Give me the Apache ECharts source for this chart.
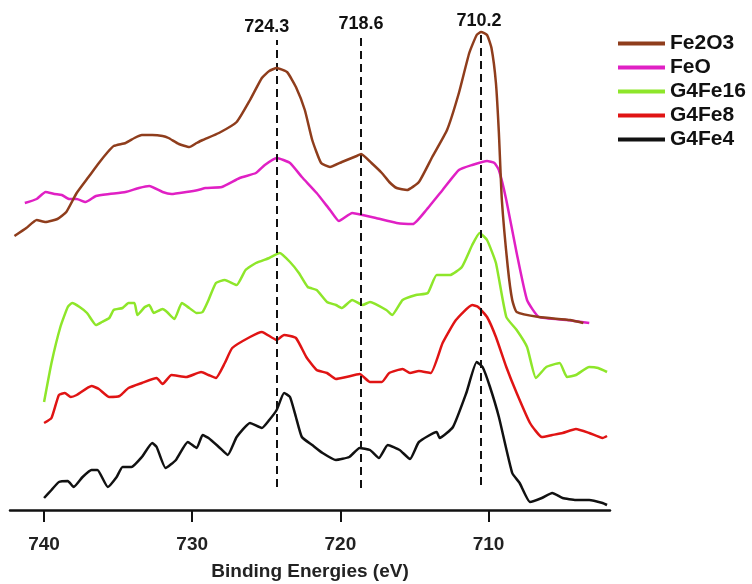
<!DOCTYPE html>
<html>
<head>
<meta charset="utf-8">
<script src="https://cdn.jsdelivr.net/npm/echarts@6/dist/echarts.min.js"></script>
<style>
  html, body { margin: 0; padding: 0; background: #fff; }
  #chart { width: 752px; height: 584px; }
</style>
</head>
<body>
<div id="chart"></div>
<script>
// Binding energy (eV), intensity (a.u., stacked offsets)
let fe2o3 = [
  [742.0, 274], [741.2, 282], [740.5, 290], [739.9, 288], [739.1, 291], [738.5, 298],
  [737.8, 317], [737.0, 333], [736.3, 347], [735.7, 358], [735.3, 364], [734.5, 367],
  [733.9, 372], [733.4, 375], [732.7, 375], [732.0, 374], [731.6, 372], [730.9, 366],
  [730.2, 363], [729.7, 367], [729.3, 370], [728.2, 377], [727.0, 388], [726.1, 410],
  [725.3, 432], [724.8, 439], [724.3, 442], [723.6, 438], [723.0, 423], [722.4, 400],
  [721.9, 370], [721.3, 347], [720.7, 343], [719.9, 348], [718.9, 354], [718.6, 356],
  [717.9, 347], [717.2, 337], [716.7, 328], [716.2, 322], [715.5, 320], [714.7, 328],
  [713.8, 353], [712.8, 380], [712.0, 417], [711.3, 457], [710.8, 475], [710.5, 478],
  [710.1, 475], [709.8, 462], [709.5, 427], [709.3, 377], [709.1, 310], [708.7, 243],
  [708.4, 210], [708.1, 198], [706.6, 193], [704.5, 190], [703.6, 187]
];
let feo = [
  [741.3, 307], [740.5, 311], [739.9, 318], [739.3, 316], [738.8, 315], [738.3, 311],
  [737.8, 311], [737.2, 308], [736.5, 314], [735.6, 316], [734.5, 318], [733.6, 322],
  [732.9, 324], [732.0, 318], [731.4, 316], [730.4, 318], [729.6, 320], [729.1, 322],
  [728.0, 323], [726.8, 332], [725.7, 337], [725.1, 345], [724.3, 352], [723.4, 347],
  [722.6, 333], [721.6, 317], [720.7, 300], [720.1, 289], [719.2, 297], [718.5, 295],
  [717.6, 292], [716.2, 287], [715.1, 286], [714.2, 300], [713.1, 320], [712.0, 340],
  [711.1, 345], [710.1, 349], [709.6, 347], [709.3, 340], [708.8, 310], [708.1, 257],
  [707.4, 210], [706.6, 193], [704.7, 190], [703.2, 187]
];
let g4fe16 = [
  [740.0, 108], [739.5, 147], [738.9, 183], [738.4, 203], [738.1, 207], [737.6, 203],
  [737.1, 197], [736.5, 185], [736.1, 188], [735.6, 192], [735.3, 200], [734.7, 202],
  [734.3, 207], [733.9, 207], [733.7, 195], [733.2, 203], [732.9, 205], [732.6, 197],
  [732.0, 201], [731.7, 198], [731.2, 191], [730.7, 207], [730.2, 202], [729.7, 197],
  [729.3, 198], [728.9, 210], [728.4, 227], [727.8, 230], [727.0, 225], [726.4, 240],
  [725.7, 247], [724.8, 252], [724.1, 257], [723.4, 248], [722.8, 237], [722.2, 223],
  [721.6, 220], [720.9, 208], [720.3, 205], [719.9, 202], [719.2, 210], [718.5, 205],
  [718.0, 208], [716.9, 200], [716.5, 195], [715.8, 210], [714.9, 215], [714.1, 217],
  [713.5, 235], [712.6, 235], [711.8, 243], [711.1, 265], [710.6, 277], [710.1, 270],
  [709.5, 247], [708.8, 193], [708.1, 180], [707.4, 163], [706.8, 132], [706.1, 143],
  [705.2, 147], [704.7, 133], [704.1, 135], [703.2, 143], [702.6, 142], [702.0, 138]
];
let g4fe8 = [
  [740.0, 87], [739.5, 92], [739.0, 115], [738.6, 117], [738.2, 113], [737.8, 115],
  [736.8, 124], [736.3, 121], [735.6, 113], [734.9, 114], [734.3, 122], [733.4, 127],
  [732.4, 132], [732.0, 126], [731.4, 135], [730.4, 133], [729.4, 138], [728.9, 135],
  [728.4, 132], [727.8, 147], [727.3, 162], [726.1, 173], [725.3, 178], [724.3, 170],
  [723.8, 175], [723.0, 172], [722.3, 153], [721.6, 140], [720.9, 137], [720.3, 131],
  [719.6, 133], [718.7, 136], [718.0, 128], [717.2, 128], [716.7, 137], [715.8, 141],
  [715.3, 137], [714.7, 139], [713.9, 137], [713.1, 167], [712.2, 190], [711.1, 205],
  [710.7, 203], [710.1, 193], [709.5, 173], [708.8, 143], [708.1, 117], [707.2, 87],
  [706.4, 73], [705.7, 75], [705.0, 77], [704.1, 81], [703.2, 77], [702.3, 72],
  [702.0, 74]
];
let g4fe4 = [
  [740.0, 12], [739.5, 20], [739.0, 28], [738.4, 29], [738.0, 23], [737.4, 33],
  [736.8, 40], [736.4, 40], [735.7, 23], [735.1, 33], [734.7, 43], [734.1, 43],
  [733.4, 53], [732.7, 67], [732.4, 63], [731.8, 42], [731.1, 50], [730.3, 68],
  [729.7, 62], [729.3, 75], [728.9, 72], [728.2, 63], [727.6, 55], [727.0, 73],
  [726.1, 87], [725.3, 82], [724.8, 90], [724.3, 100], [723.8, 117], [723.4, 113],
  [723.0, 93], [722.6, 73], [721.9, 65], [721.2, 57], [720.3, 50], [719.4, 53],
  [718.7, 62], [718.0, 60], [717.4, 52], [716.8, 65], [716.0, 60], [715.3, 51],
  [714.7, 68], [713.5, 78], [713.3, 72], [712.4, 83], [711.5, 117], [710.8, 148],
  [710.4, 143], [709.9, 123], [709.3, 93], [708.4, 37], [707.9, 27], [707.2, 8],
  [706.4, 12], [705.7, 17], [705.0, 12], [704.1, 10], [703.2, 10], [702.3, 7],
  [702.0, 5]
];

let seriesNames = ["Fe2O3", "FeO", "G4Fe16", "G4Fe8", "G4Fe4"];
let seriesColors = ["#8f3d1c", "#e020c4", "#8ee62a", "#e01414", "#111111"];
// peak marker lines: label text, where the line stands on the axis, its top and bottom
let peakLabels = ["724.3", "718.6", "710.2"];
let peakPositions = [724.3, 718.6, 710.5];
let peakTops = [470, 473, 476];
let peakBottoms = [23, 22, 25];
let xTicks = [740, 730, 720, 710];

let font = "'Liberation Sans', Arial, sans-serif";

let dom = document.getElementById("chart");
let myChart = echarts.init(dom, null, { renderer: "canvas" });

let labelShift = [-10, 0, -2];
let peakLines = peakPositions.map((p, i) => [
  {
    coord: [p, peakBottoms[i]],
    name: peakLabels[i],
    label: { offset: [labelShift[i], 0] },
  },
  { coord: [p, peakTops[i]] },
]);

let allData = [fe2o3, feo, g4fe16, g4fe8, g4fe4];

let series = allData.map((d, i) => ({
  name: seriesNames[i],
  type: "line",
  data: d,
  showSymbol: false,
  symbol: "none",
  smooth: 0.15,
  lineStyle: { color: seriesColors[i], width: 2.5 },
  itemStyle: { color: seriesColors[i] },
  z: 5 - i,
}));

series[4].markLine = {
  silent: true,
  symbol: ["none", "none"],
  lineStyle: { color: "#111", width: 2, type: [8, 5] },
  label: {
    show: true,
    position: "end",
    distance: 4,
    formatter: (p) => p.name,
    color: "#111",
    fontSize: 18,
    fontWeight: "bold",
    fontFamily: font,
  },
  data: peakLines,
};

let option = {
  animation: false,
  backgroundColor: "#fff",
  grid: { left: 10, right: 142, top: 10, bottom: 74, outerBoundsMode: "none" },
  legend: {
    orient: "vertical",
    left: 613,
    top: 28,
    itemGap: 3,
    itemWidth: 47,
    itemHeight: 4,
    icon: "rect",
    data: seriesNames,
    textStyle: {
      fontSize: 21,
      lineHeight: 21,
      fontWeight: "bold",
      color: "#111",
      fontFamily: font,
    },
  },
  xAxis: {
    type: "value",
    inverse: true,
    min: 701.8,
    max: 742.3,
    name: "Binding Energies (eV)",
    nameLocation: "middle",
    nameGap: 52,
    nameTextStyle: { fontSize: 19, fontWeight: "bold", color: "#222", fontFamily: font },
    axisLine: { lineStyle: { color: "#111", width: 2.5 } },
    axisTick: { customValues: xTicks, length: 12, lineStyle: { width: 2, color: "#111" } },
    axisLabel: {
      customValues: xTicks,
      margin: 25,
      fontSize: 19,
      fontWeight: "bold",
      color: "#222",
      fontFamily: font,
    },
    splitLine: { show: false },
  },
  yAxis: {
    type: "value",
    min: 0,
    max: 500,
    show: false,
  },
  series: series,
};

myChart.setOption(option);
</script>
</body>
</html>
